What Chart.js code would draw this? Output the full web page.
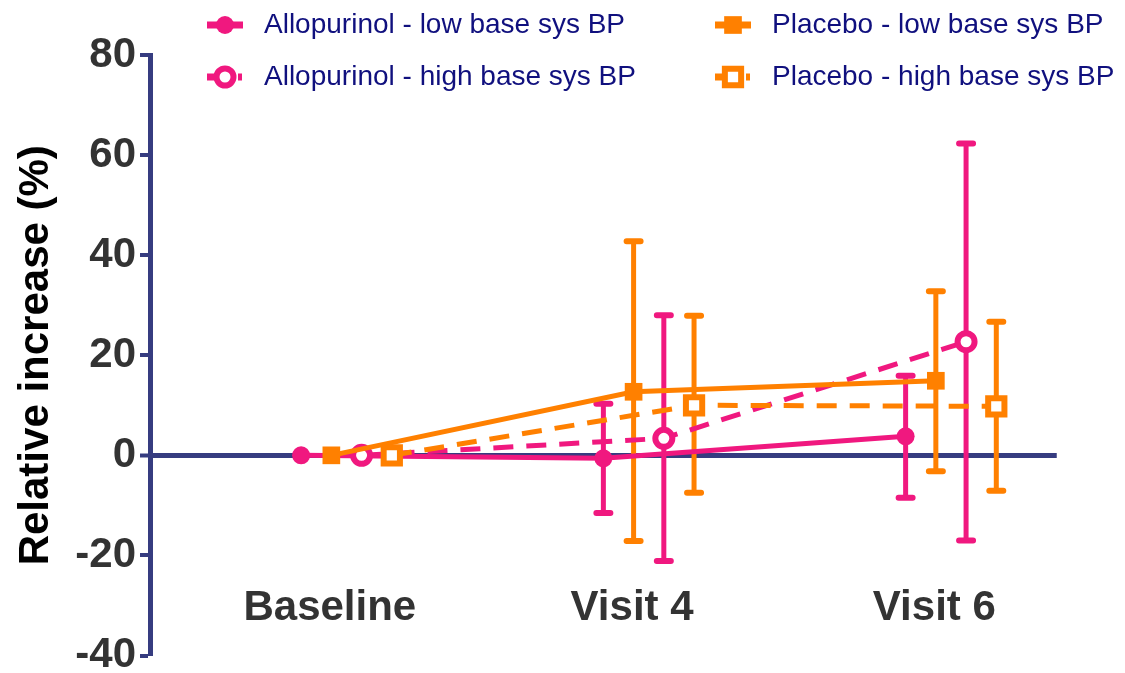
<!DOCTYPE html>
<html>
<head>
<meta charset="utf-8">
<script src="https://cdn.jsdelivr.net/npm/chart.js@4.4.1/dist/chart.umd.min.js"></script>
<style>
  html, body { margin: 0; padding: 0; background: #fff; }
  #wrap { width: 1125px; height: 673px; position: relative; }
</style>
</head>
<body>
<div id="wrap"><canvas id="myChart"></canvas></div>
<script>
// categories and series
var visits = ["Baseline", "Visit 4", "Visit 6"];
var names = [
  "Allopurinol - low base sys BP",
  "Allopurinol - high base sys BP",
  "Placebo - low base sys BP",
  "Placebo - high base sys BP"
];
// means (%)
var alloLow = [0, -0.6, 3.8];
var alloHigh = [0, 3.4, 22.7];
var placLow = [0, 12.7, 14.9];
var placHigh = [0, 10.0, 9.8];
// error bar ends (%)
var alloLowUp = [0, 10.3, 15.9];
var alloLowDn = [0, -11.5, -8.5];
var alloHighUp = [0, 28.0, 62.3];
var alloHighDn = [0, -21.1, -17.0];
var placLowUp = [0, 42.8, 32.8];
var placLowDn = [0, -17.1, -3.2];
var placHighUp = [0, 27.9, 26.7];
var placHighDn = [0, -7.5, -7.1];
var yTicks = [-40, -20, 0, 20, 40, 60, 80];

var pink = "#f0187f";
var orange = "#ff8000";
var navy = "#363c80";

// horizontal shift of each series around its visit
var shift = [-0.15, 0.05, -0.05, 0.15];

function pts(vals, s) {
  return vals.map(function (v, i) { return { x: i + s, y: v }; });
}

var ebars = [
  [alloLowUp, alloLowDn],
  [alloHighUp, alloHighDn],
  [placLowUp, placLowDn],
  [placHighUp, placHighDn]
];

var datasets = [
  {
    label: names[0], data: pts(alloLow, shift[0]), order: 3,
    borderColor: pink, backgroundColor: pink, borderWidth: 5,
    pointStyle: "circle", pointRadius: 9, pointBorderWidth: 0,
    pointBackgroundColor: pink
  },
  {
    label: names[1], data: pts(alloHigh, shift[1]), order: 2,
    borderColor: pink, backgroundColor: "#fff", borderWidth: 5, borderDash: [20, 13],
    pointStyle: "circle", pointRadius: 8.5, pointBorderWidth: 6,
    pointBackgroundColor: "#fff", pointBorderColor: pink
  },
  {
    label: names[2], data: pts(placLow, shift[2]), order: 1,
    borderColor: orange, backgroundColor: orange, borderWidth: 5,
    pointStyle: "rect", pointRadius: 12.5, pointBorderWidth: 0,
    pointBackgroundColor: orange
  },
  {
    label: names[3], data: pts(placHigh, shift[3]), order: 0,
    borderColor: orange, backgroundColor: "#fff", borderWidth: 5, borderDash: [20, 13],
    pointStyle: "rect", pointRadius: 11.5, pointBorderWidth: 6,
    pointBackgroundColor: "#fff", pointBorderColor: orange
  }
];

var errorBars = {
  id: "errorBars",
  beforeDatasetsDraw: function (chart) {
    var ctx = chart.ctx;
    var xs = chart.scales.x, ys = chart.scales.y;
    chart.data.datasets.forEach(function (ds, di) {
      var up = ebars[di][0], dn = ebars[di][1];
      ds.data.forEach(function (p, i) {
        if (up[i] === dn[i]) return;
        var px = xs.getPixelForValue(p.x);
        var pt = ys.getPixelForValue(up[i]);
        var pb = ys.getPixelForValue(dn[i]);
        ctx.save();
        ctx.strokeStyle = ds.borderColor;
        ctx.lineWidth = 5;
        ctx.lineCap = "butt";
        ctx.beginPath();
        ctx.moveTo(px, pt);
        ctx.lineTo(px, pb);
        ctx.stroke();
        ctx.lineWidth = 6;
        ctx.lineCap = "round";
        ctx.beginPath();
        ctx.moveTo(px - 7, pt); ctx.lineTo(px + 7, pt);
        ctx.moveTo(px - 7, pb); ctx.lineTo(px + 7, pb);
        ctx.stroke();
        ctx.restore();
      });
    });
  }
};

// legend in two columns at the top
var legendPos = [[225, 25], [225, 77], [733, 25], [733, 77]];
var sideLegend = {
  id: "sideLegend",
  afterDraw: function (chart) {
    var ctx = chart.ctx;
    chart.data.datasets.forEach(function (ds, di) {
      var cx = legendPos[di][0], cy = legendPos[di][1];
      ctx.save();
      ctx.strokeStyle = ds.borderColor;
      ctx.lineWidth = 7;
      ctx.beginPath();
      if (ds.borderDash) {
        ctx.moveTo(cx - 18, cy); ctx.lineTo(cx - 9, cy);
        ctx.moveTo(cx + 13, cy); ctx.lineTo(cx + 17, cy);
      } else {
        ctx.moveTo(cx - 18, cy); ctx.lineTo(cx + 18, cy);
      }
      ctx.stroke();
      var r = ds.pointRadius;
      ctx.fillStyle = ds.pointBackgroundColor;
      ctx.strokeStyle = ds.pointBorderColor || ds.borderColor;
      ctx.lineWidth = ds.pointBorderWidth;
      ctx.beginPath();
      if (ds.pointStyle === "circle") {
        ctx.arc(cx, cy, r, 0, Math.PI * 2);
      } else {
        var s = r * Math.SQRT1_2;
        ctx.rect(cx - s, cy - s, 2 * s, 2 * s);
      }
      ctx.fill();
      if (ds.pointBorderWidth) ctx.stroke();
      ctx.fillStyle = "#10107e";
      ctx.font = "28px Arial, 'Liberation Sans', sans-serif";
      ctx.textBaseline = "middle";
      ctx.textAlign = "left";
      ctx.fillText(ds.label, cx + 39, cy);
      ctx.restore();
    });
  }
};

Chart.defaults.font.family = "Arial, 'Liberation Sans', sans-serif";

var ctx = document.getElementById("myChart").getContext("2d");
var myChart = new Chart(ctx, {
  type: "line",
  data: { datasets: datasets },
  options: {
    responsive: true,
    maintainAspectRatio: false,
    animation: false,
    devicePixelRatio: 1,
    layout: { padding: { top: 55, left: 0, right: 68, bottom: 15 } },
    plugins: { legend: { display: false }, tooltip: { enabled: false } },
    elements: { line: { tension: 0 } },
    datasets: { line: { clip: false } },
    scales: {
      x: {
        type: "linear",
        position: { y: 0 },
        min: -0.65,
        max: 2.35,
        grid: { display: false },
        border: { display: false },
        afterBuildTicks: function (scale) {
          scale.ticks = visits.map(function (v, i) { return { value: i - 0.055 }; });
        },
        ticks: {
          padding: 120,
          autoSkip: false,
          maxRotation: 0,
          color: "#333333",
          font: { size: 42, weight: "bold" },
          callback: function (val) { return visits[Math.round(val + 0.055)]; }
        }
      },
      y: {
        min: -40,
        max: 80,
        afterBuildTicks: function (scale) {
          scale.ticks = yTicks.map(function (v) { return { value: v }; });
        },
        afterFit: function (scale) {
          scale.width = 150;
          scale.paddingTop = 0;
          scale.paddingBottom = 0;
        },
        border: { display: true, color: navy, width: 5 },
        grid: {
          drawTicks: true,
          tickLength: 10,
          tickWidth: 4,
          tickColor: navy,
          color: function (c) { return c.tick && c.tick.value === 0 ? navy : "rgba(0,0,0,0)"; },
          lineWidth: function (c) { return c.tick && c.tick.value === 0 ? 5 : 0; }
        },
        ticks: {
          padding: 4,
          color: "#333333",
          font: { size: 42, weight: "bold" }
        },
        title: {
          display: true,
          text: "Relative increase (%)",
          color: "#000000",
          padding: { top: 11, bottom: 0 },
          font: { size: 42, weight: "bold" }
        }
      }
    }
  },
  plugins: [errorBars, sideLegend]
});
</script>
</body>
</html>
